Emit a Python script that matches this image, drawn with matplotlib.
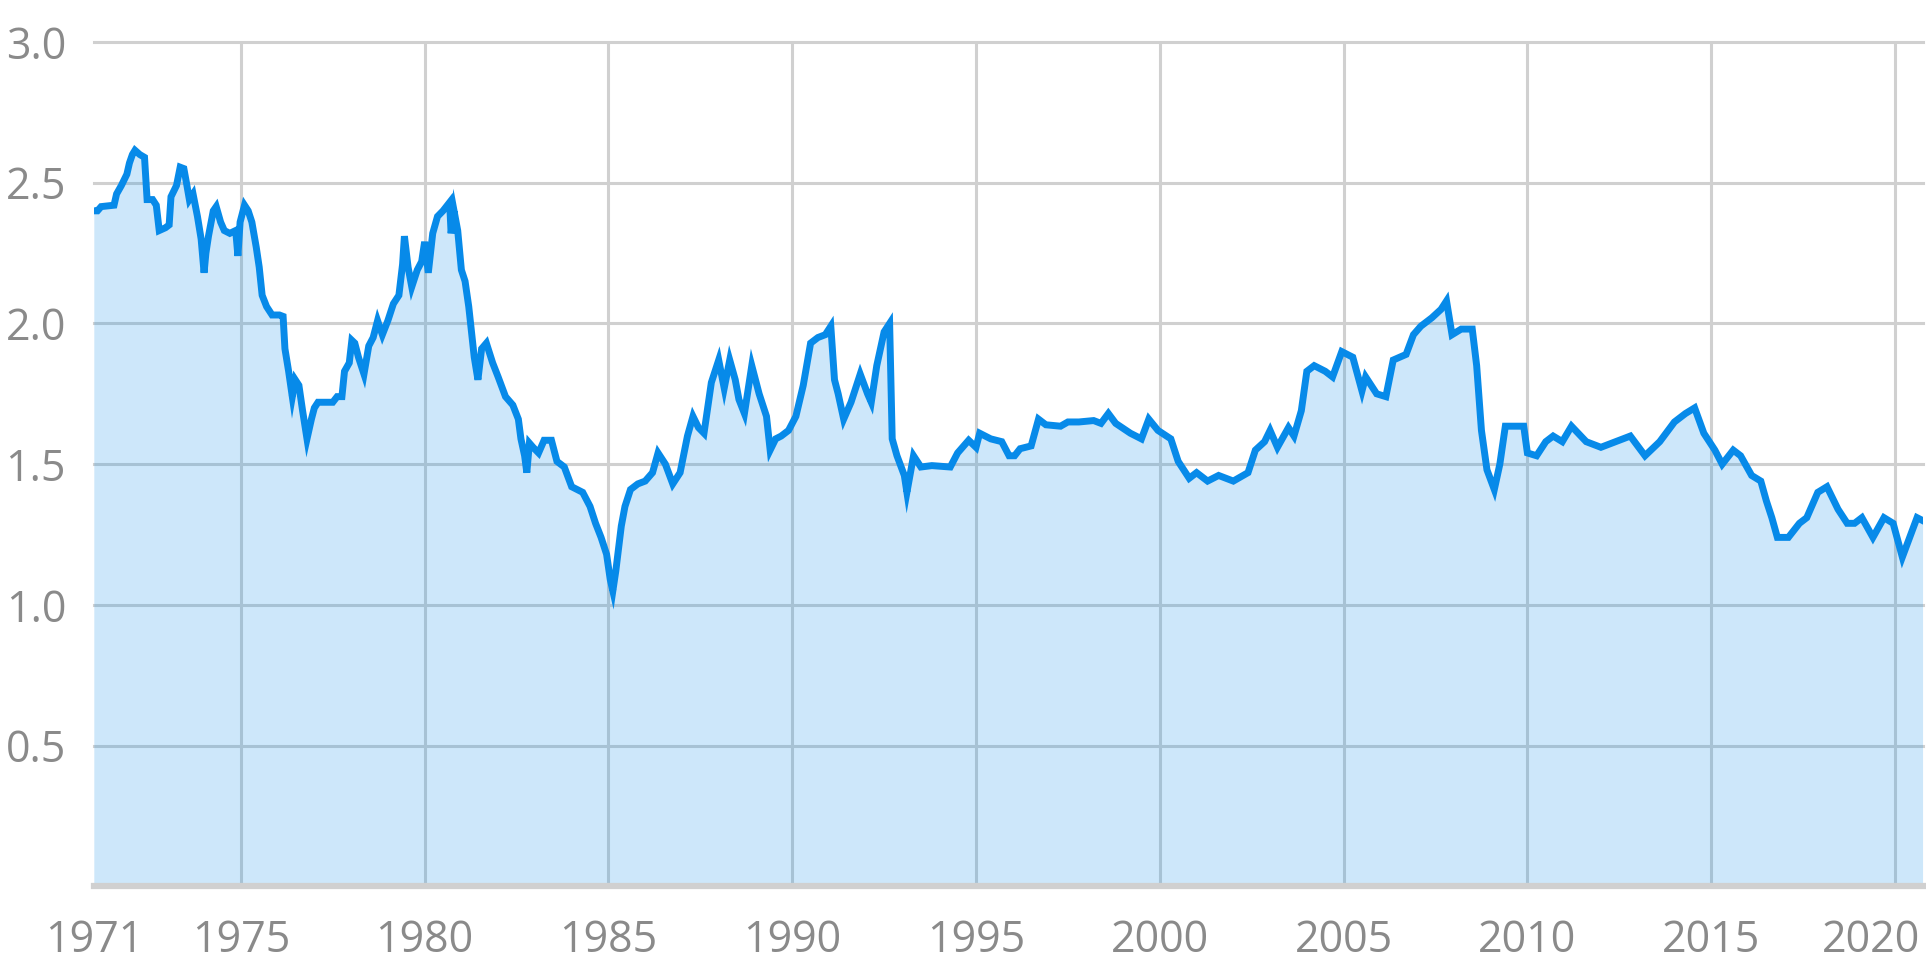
import matplotlib
matplotlib.use("Agg")
import matplotlib.pyplot as plt
from matplotlib.transforms import ScaledTranslation

years = [
    1971.00, 1971.10, 1971.20, 1971.55, 1971.62, 1971.75, 1971.90, 1971.97, 1972.05, 1972.12,
    1972.25, 1972.38, 1972.45, 1972.60, 1972.70, 1972.78, 1972.95, 1973.05, 1973.10, 1973.25,
    1973.35, 1973.45, 1973.52, 1973.60, 1973.70, 1973.82, 1973.92, 1974.00, 1974.05, 1974.12,
    1974.25, 1974.33, 1974.45, 1974.55, 1974.70, 1974.86, 1974.92, 1974.98, 1975.10, 1975.20,
    1975.30, 1975.42, 1975.50, 1975.58, 1975.70, 1975.85, 1976.05, 1976.15, 1976.20, 1976.30,
    1976.40, 1976.48, 1976.58, 1976.68, 1976.80, 1976.92, 1977.00, 1977.10, 1977.50, 1977.62,
    1977.75, 1977.82, 1977.95, 1978.02, 1978.10, 1978.20, 1978.35, 1978.48, 1978.60, 1978.72,
    1978.85, 1979.00, 1979.15, 1979.30, 1979.40, 1979.45, 1979.55, 1979.65, 1979.80, 1979.92,
    1980.00, 1980.10, 1980.22, 1980.35, 1980.50, 1980.62, 1980.68, 1980.72, 1980.80, 1980.90,
    1981.00, 1981.10, 1981.20, 1981.35, 1981.45, 1981.55, 1981.68, 1981.85, 1982.00, 1982.20,
    1982.40, 1982.55, 1982.62, 1982.72, 1982.78, 1982.85, 1982.95, 1983.10, 1983.25, 1983.45,
    1983.60, 1983.80, 1984.00, 1984.30, 1984.50, 1984.65, 1984.80, 1984.95, 1985.05, 1985.12,
    1985.20, 1985.35, 1985.45, 1985.60, 1985.80, 1986.00, 1986.20, 1986.35, 1986.45, 1986.55,
    1986.75, 1986.95, 1987.15, 1987.30, 1987.45, 1987.60, 1987.80, 1988.00, 1988.15, 1988.30,
    1988.45, 1988.55, 1988.70, 1988.90, 1989.10, 1989.30, 1989.40, 1989.55, 1989.70, 1989.90,
    1990.10, 1990.30, 1990.50, 1990.70, 1990.90, 1991.05, 1991.15, 1991.25, 1991.40, 1991.60,
    1991.85, 1992.05, 1992.15, 1992.30, 1992.50, 1992.65, 1992.72, 1992.85, 1993.05, 1993.12,
    1993.30, 1993.50, 1993.80, 1994.30, 1994.50, 1994.80, 1995.00, 1995.10, 1995.40, 1995.70,
    1995.90, 1996.05, 1996.20, 1996.50, 1996.70, 1996.90, 1997.30, 1997.50, 1997.80, 1998.20,
    1998.40, 1998.60, 1998.80, 1999.20, 1999.50, 1999.70, 1999.95, 2000.30, 2000.50, 2000.80,
    2001.00, 2001.30, 2001.60, 2002.00, 2002.40, 2002.60, 2002.85, 2003.00, 2003.20, 2003.50,
    2003.65, 2003.85, 2004.00, 2004.20, 2004.50, 2004.70, 2004.95, 2005.25, 2005.50, 2005.60,
    2005.90, 2006.15, 2006.35, 2006.70, 2006.90, 2007.10, 2007.40, 2007.65, 2007.80, 2007.95,
    2008.20, 2008.50, 2008.62, 2008.75, 2008.90, 2009.10, 2009.25, 2009.40, 2009.90, 2010.00,
    2010.25, 2010.50, 2010.70, 2010.95, 2011.20, 2011.60, 2012.00, 2012.40, 2012.80, 2013.20,
    2013.60, 2014.00, 2014.30, 2014.55, 2014.80, 2015.10, 2015.30, 2015.60, 2015.80, 2016.10,
    2016.35, 2016.50, 2016.65, 2016.80, 2017.10, 2017.40, 2017.60, 2017.90, 2018.15, 2018.45,
    2018.70, 2018.90, 2019.10, 2019.40, 2019.70, 2019.95, 2020.20, 2020.40, 2020.60, 2020.75,
]
rates = [
    2.40, 2.40, 2.415, 2.42, 2.46, 2.49, 2.53, 2.57, 2.60, 2.615,
    2.60, 2.59, 2.44, 2.44, 2.42, 2.33, 2.34, 2.35, 2.45, 2.49,
    2.555, 2.55, 2.50, 2.44, 2.46, 2.38, 2.30, 2.18, 2.25, 2.31,
    2.40, 2.415, 2.36, 2.33, 2.32, 2.33, 2.24, 2.36, 2.42, 2.40,
    2.36, 2.27, 2.20, 2.10, 2.06, 2.03, 2.03, 2.025, 1.91, 1.83,
    1.74, 1.80, 1.78, 1.69, 1.59, 1.66, 1.70, 1.72, 1.72, 1.74,
    1.74, 1.83, 1.86, 1.94, 1.93, 1.88, 1.82, 1.92, 1.95, 2.01,
    1.96, 2.01, 2.07, 2.10, 2.21, 2.31, 2.20, 2.13, 2.19, 2.22,
    2.29, 2.18, 2.32, 2.38, 2.40, 2.42, 2.43, 2.32, 2.40, 2.33,
    2.19, 2.15, 2.06, 1.88, 1.80, 1.91, 1.93, 1.86, 1.81, 1.74,
    1.71, 1.66, 1.59, 1.53, 1.47, 1.575, 1.56, 1.54, 1.585, 1.585,
    1.51, 1.49, 1.42, 1.40, 1.35, 1.29, 1.24, 1.18, 1.09, 1.05,
    1.12, 1.28, 1.35, 1.41, 1.43, 1.44, 1.47, 1.54, 1.52, 1.50,
    1.43, 1.47, 1.60, 1.67, 1.63, 1.61, 1.79, 1.87, 1.77, 1.87,
    1.80, 1.73, 1.68, 1.85, 1.75, 1.67, 1.55, 1.59, 1.60, 1.62,
    1.67, 1.78, 1.93, 1.95, 1.96, 1.99, 1.80, 1.75, 1.66, 1.72,
    1.82, 1.75, 1.72, 1.85, 1.97, 2.00, 1.59, 1.53, 1.46, 1.40,
    1.53, 1.49, 1.495, 1.49, 1.54, 1.585, 1.56, 1.61, 1.59, 1.58,
    1.53, 1.53, 1.555, 1.565, 1.66, 1.64, 1.635, 1.65, 1.65, 1.655,
    1.645, 1.68, 1.645, 1.61, 1.59, 1.66, 1.62, 1.59, 1.51, 1.45,
    1.47, 1.44, 1.46, 1.44, 1.47, 1.55, 1.58, 1.62, 1.56, 1.63,
    1.60, 1.69, 1.83, 1.85, 1.83, 1.81, 1.90, 1.88, 1.76, 1.81,
    1.75, 1.74, 1.87, 1.89, 1.96, 1.99, 2.02, 2.05, 2.08, 1.96,
    1.98, 1.98, 1.85, 1.62, 1.48, 1.41, 1.50, 1.635, 1.635, 1.54,
    1.53, 1.58, 1.60, 1.58, 1.635, 1.58, 1.56, 1.58, 1.60, 1.53,
    1.58, 1.65, 1.68, 1.70, 1.61, 1.55, 1.50, 1.55, 1.53, 1.46,
    1.44, 1.37, 1.31, 1.24, 1.24, 1.29, 1.31, 1.40, 1.42, 1.34,
    1.29, 1.29, 1.31, 1.24, 1.31, 1.29, 1.17, 1.24, 1.31, 1.30,
]
x_ticks = [1971, 1975, 1980, 1985, 1990, 1995, 2000, 2005, 2010, 2015, 2020]
x_grid = [1975, 1980, 1985, 1990, 1995, 2000, 2005, 2010, 2015, 2020]
y_ticks = [0.5, 1.0, 1.5, 2.0, 2.5, 3.0]

LINE = '#078ae9'
GRID = '#d0d0d0'
LABEL = '#8a8a8a'

plt.rcParams['font.family'] = ['Open Sans', 'DejaVu Sans']

fig = plt.figure(figsize=(19.26, 9.75), dpi=100)
ax = fig.add_axes([0.0487, 0.0908, 0.9497, 0.8662])

for g in x_grid:
    ax.axvline(g, color=GRID, lw=2.2, zorder=1)
for g in y_ticks:
    ax.axhline(g, color=GRID, lw=2.2, zorder=1, clip_on=False)
ax.fill_between(years, rates, 0, color=LINE, alpha=0.2, linewidth=0, zorder=2)
ax.plot(years, rates, color=LINE, lw=5.0, zorder=3, solid_joinstyle='miter')
ax.axhline(0, color=GRID, lw=4.5, zorder=4, clip_on=False)

ax.set_xlim(1971, 2020.76)
ax.set_ylim(0, 3.0)
ax.set_xticks(x_ticks)
ax.set_xticklabels([str(t) for t in x_ticks])
ax.set_yticks(y_ticks)
ax.set_yticklabels([f"{t:.1f}" for t in y_ticks])
ax.tick_params(axis='both', length=0, colors=LABEL, labelsize=31)
ax.tick_params(axis='x', pad=23)
ax.tick_params(axis='y', pad=20)
for s in ax.spines.values():
    s.set_visible(False)

last = ax.get_xticklabels()[-1]
last.set_horizontalalignment('right')
last.set_transform(last.get_transform() + ScaledTranslation(0.25, 0, fig.dpi_scale_trans))

fig.savefig('out.png', dpi=100)
